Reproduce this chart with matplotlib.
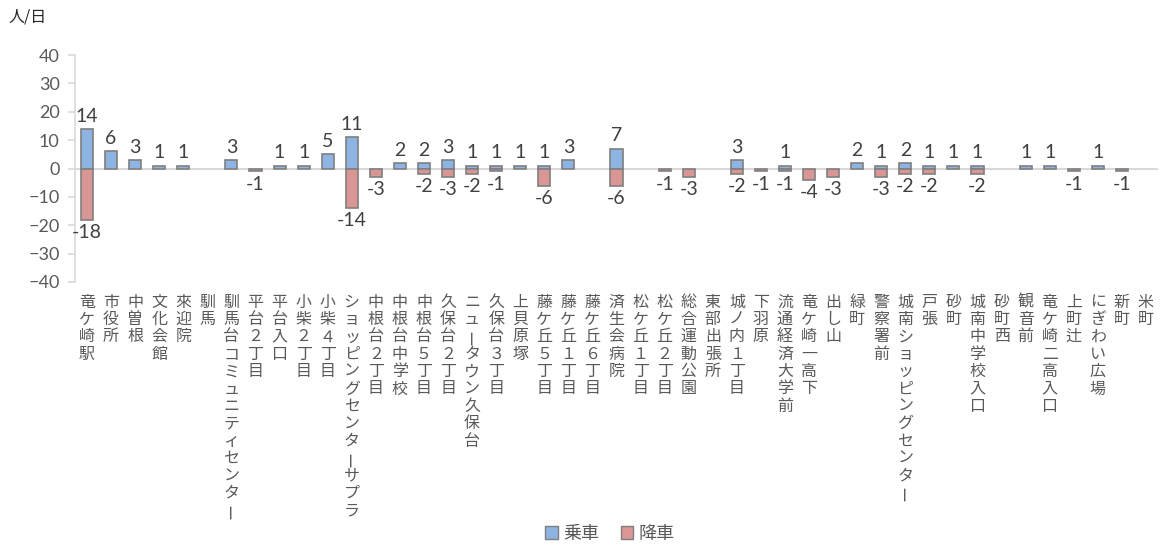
import numpy as np
import matplotlib.pyplot as plt
import matplotlib.transforms as mtransforms
from matplotlib.patches import Patch

stops = ["竜ケ崎駅", "市役所", "中曽根", "文化会館", "來迎院", "馴馬",
         "馴馬台コミュニティセンター", "平台２丁目", "平台入口", "小柴２丁目",
         "小柴４丁目", "ショッピングセンターサプラ", "中根台２丁目", "中根台中学校",
         "中根台５丁目", "久保台２丁目", "ニュータウン久保台", "久保台３丁目", "上貝原塚",
         "藤ケ丘５丁目", "藤ケ丘１丁目", "藤ケ丘６丁目", "済生会病院", "松ケ丘１丁目",
         "松ケ丘２丁目", "総合運動公園", "東部出張所", "城ノ内１丁目", "下羽原",
         "流通経済大学前", "竜ケ崎一高下", "出し山", "緑町", "警察署前",
         "城南ショッピングセンター", "戸張", "砂町", "城南中学校入口", "砂町西",
         "観音前", "竜ケ崎二高入口", "上町辻", "にぎわい広場", "新町", "米町"]

boarding = [14, 6, 3, 1, 1, 0, 3, 0, 1, 1, 5, 11, 0, 2, 2, 3, 1, 1, 1, 1, 3, 0, 7,
            0, 0, 0, 0, 3, 0, 1, 0, 0, 2, 1, 2, 1, 1, 1, 0, 1, 1, 0, 1, 0, 0]
alighting = [-18, 0, 0, 0, 0, 0, 0, -1, 0, 0, 0, -14, -3, 0, -2, -3, -2, -1, 0, -6, 0, 0, -6,
             0, -1, -3, 0, -2, -1, -1, -4, -3, 0, -3, -2, -2, 0, -2, 0, 0, 0, -1, 0, -1, 0]

JP = ["Noto Sans CJK JP", "DejaVu Sans"]
NUM = ["Lato", "DejaVu Sans"]
TXT = "#595959"
BLUE = "#8EB4E3"
RED = "#D99694"
EDGE = "#7F7F7F"

fig = plt.figure(figsize=(11.63, 5.48), dpi=100)
ax = fig.add_axes([75 / 1163, 1 - 282 / 548, 1083 / 1163, 227 / 548])

x = np.arange(len(stops))
b = np.array(boarding)
a = np.array(alighting)
ax.bar(x[b != 0], b[b != 0], width=0.5, color=BLUE, edgecolor=EDGE, linewidth=1.2, zorder=3)
ax.bar(x[a != 0], a[a != 0], width=0.5, color=RED, edgecolor=EDGE, linewidth=1.2, zorder=3)
ax.axhline(0, color="#D9D9D9", linewidth=1.5, zorder=2)

for i in range(len(stops)):
    if b[i]:
        ax.annotate(str(b[i]), (i, b[i]), xytext=(0, 3), textcoords="offset points",
                    ha="center", va="bottom", fontsize=14, family=NUM, color="#404040")
    if a[i]:
        ax.annotate(str(a[i]), (i, a[i]), xytext=(0, -3), textcoords="offset points",
                    ha="center", va="top", fontsize=14, family=NUM, color="#404040")

ax.set_xlim(-0.5, len(stops) - 0.5)
ax.set_ylim(-40, 40)
ax.set_yticks(np.arange(-40, 41, 10))
ax.set_xticks([])
for s in ["top", "right", "bottom"]:
    ax.spines[s].set_visible(False)
ax.spines["left"].set_color("#D9D9D9")
ax.spines["left"].set_linewidth(1.2)
ax.tick_params(axis="y", colors="#D9D9D9", labelcolor=TXT, length=5, width=1.2, pad=6)
for t in ax.get_yticklabels():
    t.set_fontsize(13)
    t.set_family(NUM)

# vertical (tategaki) category labels, one character per line
trans = mtransforms.blended_transform_factory(ax.transData, fig.transFigure)
pitch = 17.4 / 548
top = 1 - 302 / 548
for i, name in enumerate(stops):
    for k, ch in enumerate(name):
        rot = 90 if ch == "ー" else 0
        ax.text(i, top - k * pitch, ch, transform=trans, ha="center", va="center",
                fontsize=11.5, family=JP, color=TXT, rotation=rot, clip_on=False)

fig.text(8 / 1163, 1 - 17 / 548, "人/日", fontsize=11.5, family=JP, color="#262626",
         ha="left", va="center")

handles = [Patch(facecolor=BLUE, edgecolor=EDGE, label="乗車"),
           Patch(facecolor=RED, edgecolor=EDGE, label="降車")]
fig.legend(handles=handles, loc="center", bbox_to_anchor=(610 / 1163, 1 - 534 / 548),
           ncol=2, frameon=False, prop={"family": JP, "size": 13},
           handlelength=0.7, handleheight=0.7, handletextpad=0.3, columnspacing=1.2,
           labelcolor=TXT)

fig.savefig("out.png", dpi=100)
